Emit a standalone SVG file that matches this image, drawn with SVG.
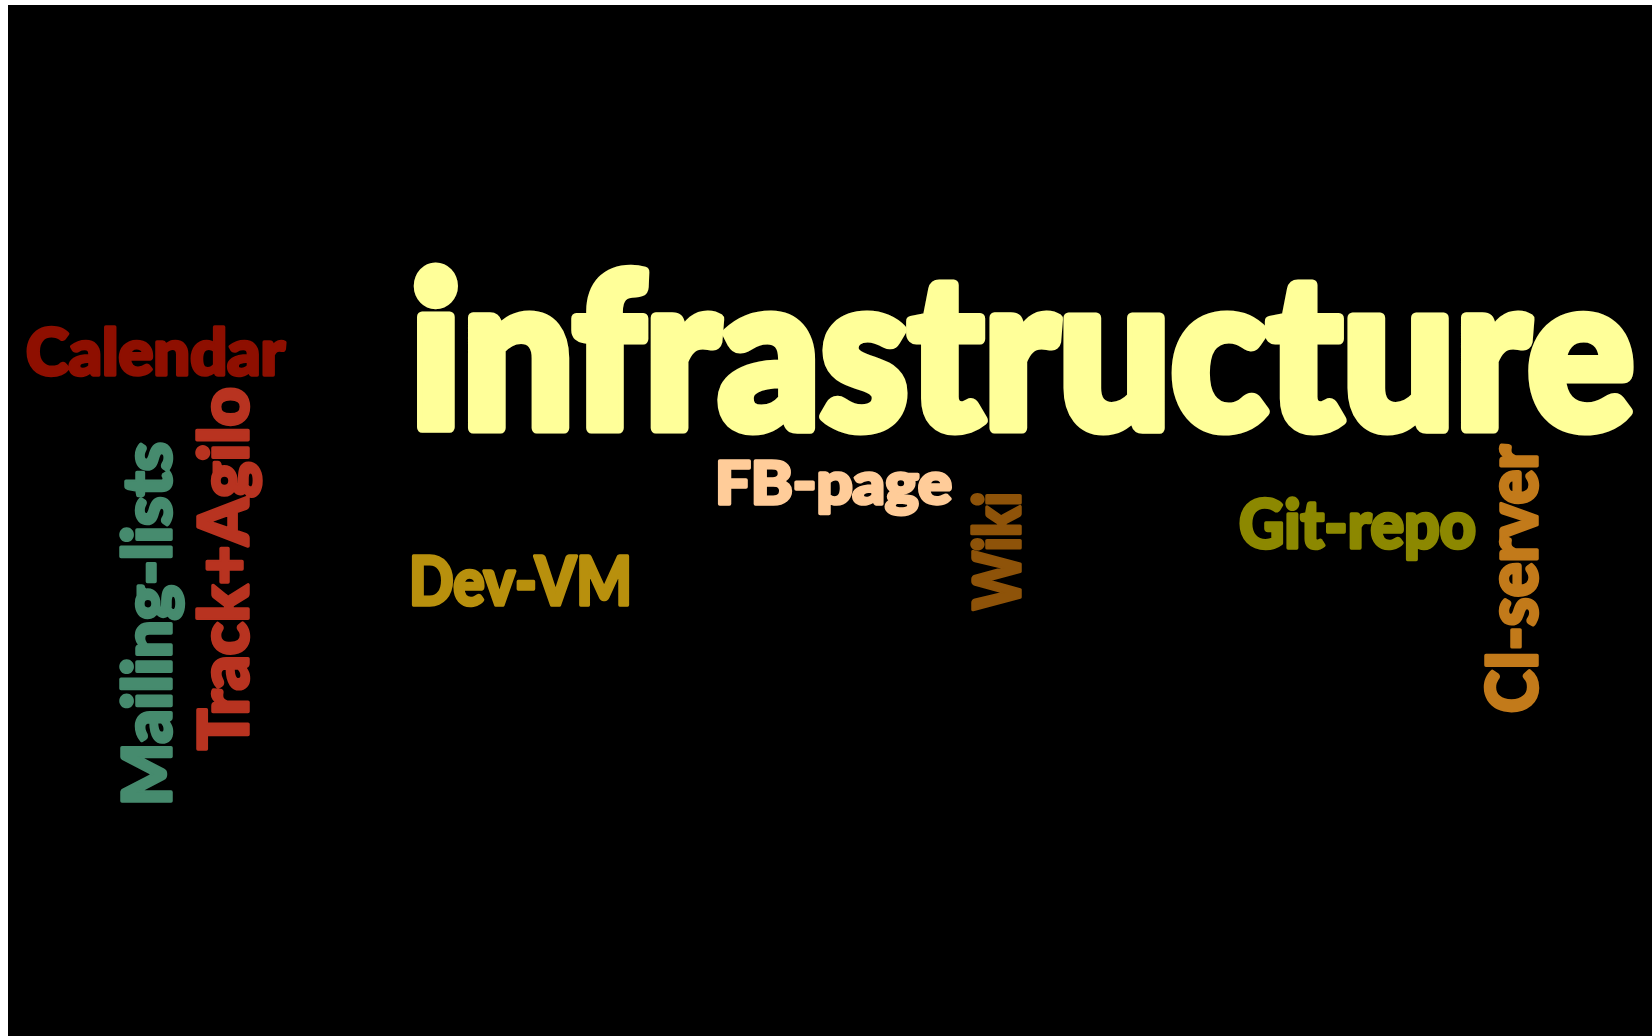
<svg xmlns="http://www.w3.org/2000/svg" width="1652" height="1036" viewBox="0 0 1652 1036">
  <style>
    .w { font-family: Lato, "Open Sans", "Liberation Sans", sans-serif; font-weight: 900; stroke-linejoin: round; paint-order: stroke fill; }
    .s { stroke-width: 3.5; }
  </style>
  <!-- page and black canvas -->
  <rect x="0" y="0" width="1652" height="1036" fill="#ffffff"/>
  <rect x="8" y="5" width="1644" height="1031" fill="#000000"/>

  <!-- word cloud -->
  <g id="infrastructure">
    <text class="w" x="410" y="428" font-size="214" fill="#FFFF99" stroke="#FFFF99" stroke-width="11" textLength="1224" lengthAdjust="spacingAndGlyphs">infrastructure</text>
  </g>
  <g id="calendar">
    <text class="w s" x="26" y="375" font-size="65" fill="#8E0F00" stroke="#8E0F00" textLength="259" lengthAdjust="spacingAndGlyphs">Calendar</text>
  </g>
  <g id="mailing-lists" transform="translate(171 806) rotate(-90)">
    <text class="w s" x="0" y="0" font-size="66" fill="#468B6E" stroke="#468B6E" textLength="364" lengthAdjust="spacingAndGlyphs">Mailing-lists</text>
  </g>
  <g id="track-agilo" transform="translate(248 750) rotate(-90)">
    <text class="w s" x="0" y="0" font-size="68" fill="#B83320" stroke="#B83320" textLength="363" lengthAdjust="spacingAndGlyphs">Track+Agilo</text>
  </g>
  <g id="dev-vm">
    <text class="w s" x="409" y="605" font-size="66" fill="#B8900D" stroke="#B8900D" textLength="223" lengthAdjust="spacingAndGlyphs">Dev-VM</text>
  </g>
  <g id="fb-page">
    <text class="w s" x="715" y="504" font-size="59" fill="#FFCC99" stroke="#FFCC99" textLength="237" lengthAdjust="spacingAndGlyphs">FB-page</text>
  </g>
  <g id="wiki" transform="translate(1020 610) rotate(-90)">
    <text class="w s" x="0" y="0" font-size="64" fill="#8E5309" stroke="#8E5309" textLength="118" lengthAdjust="spacingAndGlyphs">Wiki</text>
  </g>
  <g id="git-repo">
    <text class="w s" x="1239" y="548" font-size="66" fill="#8C8800" stroke="#8C8800" textLength="237" lengthAdjust="spacingAndGlyphs">Git-repo</text>
  </g>
  <g id="ci-server" transform="translate(1537 713) rotate(-90)">
    <text class="w s" x="0" y="0" font-size="70" fill="#C27A1A" stroke="#C27A1A" textLength="268" lengthAdjust="spacingAndGlyphs">CI-server</text>
  </g>
</svg>
